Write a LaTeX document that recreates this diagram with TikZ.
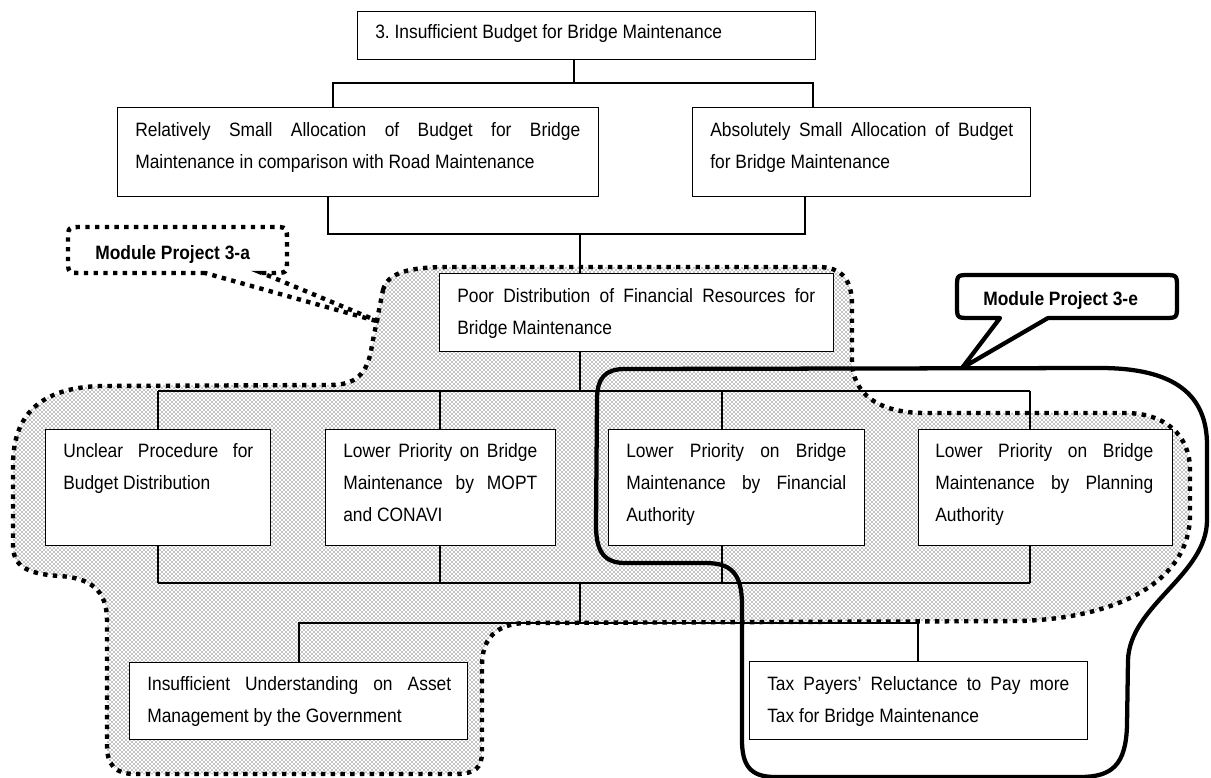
\documentclass[tikz,border=0pt]{standalone}
\usepackage{fontspec}
\setmainfont{Liberation Sans}[FakeStretch=0.9]
\usetikzlibrary{patterns}
\frenchspacing

% one unit of the drawing grid
\newdimen\pxu \pxu=0.75pt
% a justified line of a given width, and a top-aligned text block
\newcommand\jline[2]{\makebox[#1\pxu][s]{#2}}
\newcommand\boxtext[2]{\parbox[t]{#1\pxu}{#2}}
% a framed box given by its corners
\newcommand\mkbox[5]{\node[box, minimum width={(#4-#2)*0.75pt}, minimum height={(#5-#3)*0.75pt}] (#1) at (#2,#3) {};}

\begin{document}
\begin{tikzpicture}[x=0.75pt,y=-0.75pt,
  font=\fontsize{14.5pt}{24pt}\selectfont,
  box/.style={draw, fill=white, line width=1pt, inner sep=0pt, anchor=north west},
  txt/.style={inner sep=0pt, anchor=base west},
  conn/.style={line width=0.8pt},
  dotline/.style={line width=3.3pt, dash pattern=on 3.3pt off 4pt},
  heavy/.style={line width=3.2pt, line join=round},
  tag/.style={inner sep=0pt, anchor=base west, font=\fontsize{14.5pt}{24pt}\selectfont\bfseries}]

\useasboundingbox (0,0) rectangle (1211,778);

% shaded scope of module project 3-a
\draw[dotline, pattern=crosshatch dots, pattern color=black]
  (383,290) .. controls (388,272) and (410,267) .. (450,267)
  -- (818,267) .. controls (842,267) and (852,280) .. (852,305)
  -- (852,360) .. controls (852,395) and (880,413) .. (925,413)
  -- (1125,413) .. controls (1165,413) and (1190,435) .. (1190,470)
  -- (1190,515) .. controls (1190,580) and (1120,618) .. (1020,621)
  -- (525,623) .. controls (495,624) and (482,640) .. (482,665)
  -- (482,752) .. controls (482,768) and (475,774) .. (455,774)
  -- (135,774) .. controls (115,774) and (107,765) .. (107,745)
  -- (107,620) .. controls (107,590) and (90,578) .. (60,576)
  .. controls (25,574) and (13,565) .. (13,545)
  -- (13,465) .. controls (13,415) and (40,388) .. (100,386)
  -- (330,385) .. controls (355,385) and (368,375) .. (372,345)
  -- cycle;

% boxes
\mkbox{top}{357}{11}{815}{59}
\mkbox{rel}{117}{107}{598}{196}
\mkbox{abs}{692}{107}{1030}{196}
\mkbox{poor}{439}{273}{833}{351}
\mkbox{unc}{45}{429}{270}{545}
\mkbox{mopt}{325}{429}{555}{545}
\mkbox{fin}{608}{429}{864}{545}
\mkbox{plan}{918}{429}{1172}{545}
\mkbox{ins}{129}{662}{467}{739}
\mkbox{tax}{749}{661}{1087}{739}

% junctions of the tree
\coordinate (b1) at (574,83);  \coordinate (b1l) at (333,83);  \coordinate (b1r) at (813,83);
\coordinate (b2) at (580,234); \coordinate (b2l) at (328,234); \coordinate (b2r) at (805,234);
\coordinate (b3) at (580,391); \coordinate (b3l) at (158,391); \coordinate (b3r) at (1030,391);
\coordinate (m3) at (440,391); \coordinate (f3) at (722,391);
\coordinate (b4) at (580,583); \coordinate (b4l) at (158,583); \coordinate (b4r) at (1030,583);
\coordinate (m4) at (440,583); \coordinate (f4) at (722,583);
\coordinate (b5) at (580,623); \coordinate (b5l) at (299,623); \coordinate (b5r) at (918,623);

% connectors
\draw[conn] (top.south -| b1) -- (b1);
\draw[conn] (rel.north -| b1l) -- (b1l) -- (b1r) -- (abs.north -| b1r);
\draw[conn] (rel.south -| b2l) -- (b2l) -- (b2r) -- (abs.south -| b2r);
\draw[conn] (b2) -- (poor.north -| b2);
\draw[conn] (poor.south -| b3) -- (b3);
\draw[conn] (b3l) -- (b3r);
\draw[conn] (unc.north -| b3l) -- (b3l);
\draw[conn] (mopt.north -| m3) -- (m3);
\draw[conn] (fin.north -| f3) -- (f3);
\draw[conn] (plan.north -| b3r) -- (b3r);
\draw[conn] (b4l) -- (b4r);
\draw[conn] (unc.south -| b4l) -- (b4l);
\draw[conn] (mopt.south -| m4) -- (m4);
\draw[conn] (fin.south -| f4) -- (f4);
\draw[conn] (plan.south -| b4r) -- (b4r);
\draw[conn] (b4) -- (b5);
\draw[conn] (ins.north -| b5l) -- (b5l) -- (b5r) -- (tax.north -| b5r);

% box texts
\node[txt] (top-t) at (375,38) {3. Insufficient Budget for Bridge Maintenance};
\node[txt] (rel-t) at (135,136) {\boxtext{445}{\jline{445}{Relatively Small Allocation of Budget for Bridge}\\Maintenance in comparison with Road Maintenance}};
\node[txt] (abs-t) at (710,136) {\boxtext{303}{\jline{303}{Absolutely Small Allocation of Budget}\\for Bridge Maintenance}};
\node[txt] (poor-t) at (457,302) {\boxtext{358}{\jline{358}{Poor Distribution of Financial Resources for}\\Bridge Maintenance}};
\node[txt] (unc-t) at (63,457) {\boxtext{190}{\jline{190}{Unclear Procedure for}\\Budget Distribution}};
\node[txt] (mopt-t) at (343,457) {\boxtext{194}{\jline{194}{Lower Priority on Bridge}\\\jline{194}{Maintenance by MOPT}\\and CONAVI}};
\node[txt] (fin-t) at (626,457) {\boxtext{220}{\jline{220}{Lower Priority on Bridge}\\\jline{220}{Maintenance by Financial}\\Authority}};
\node[txt] (plan-t) at (935,457) {\boxtext{218}{\jline{218}{Lower Priority on Bridge}\\\jline{218}{Maintenance by Planning}\\Authority}};
\node[txt] (ins-t) at (147,690) {\boxtext{304}{\jline{304}{Insufficient Understanding on Asset}\\Management by the Government}};
\node[txt] (tax-t) at (767,690) {\boxtext{302}{\jline{302}{Tax Payers’ Reluctance to Pay more}\\Tax for Bridge Maintenance}};

% scope of module project 3-e
\draw[heavy]
  (597,400) .. controls (597,378) and (605,369) .. (625,369)
  -- (1100,368) .. controls (1175,368) and (1207,395) .. (1207,445)
  -- (1207,520) .. controls (1207,575) and (1130,605) .. (1128,660)
  -- (1127,725) .. controls (1126,765) and (1112,777) .. (1080,777)
  -- (775,777) .. controls (750,777) and (742,765) .. (742,740)
  -- (742,605) .. controls (742,572) and (730,563) .. (705,563)
  -- (625,563) .. controls (603,563) and (596,550) .. (596,525)
  -- cycle;

% callouts
\draw[dotline, fill=white]
  (205,273) -- (82,273) .. controls (68,273) .. (68,259)
  -- (68,241) .. controls (68,227) .. (82,227)
  -- (273,227) .. controls (287,227) .. (287,241)
  -- (287,259) .. controls (287,273) .. (273,273)
  -- (262,273) -- (380,322) -- cycle;
\node[tag] (ma) at (95,259) {Module Project 3-a};

\draw[heavy, fill=white]
  (1000,318) -- (970,318) .. controls (957,318) .. (957,305)
  -- (957,288) .. controls (957,275) .. (970,275)
  -- (1164,275) .. controls (1177,275) .. (1177,288)
  -- (1177,305) .. controls (1177,318) .. (1164,318)
  -- (1048,318) -- (962,368) -- cycle;
\node[tag] (me) at (983,305) {Module Project 3-e};

\end{tikzpicture}
\end{document}
